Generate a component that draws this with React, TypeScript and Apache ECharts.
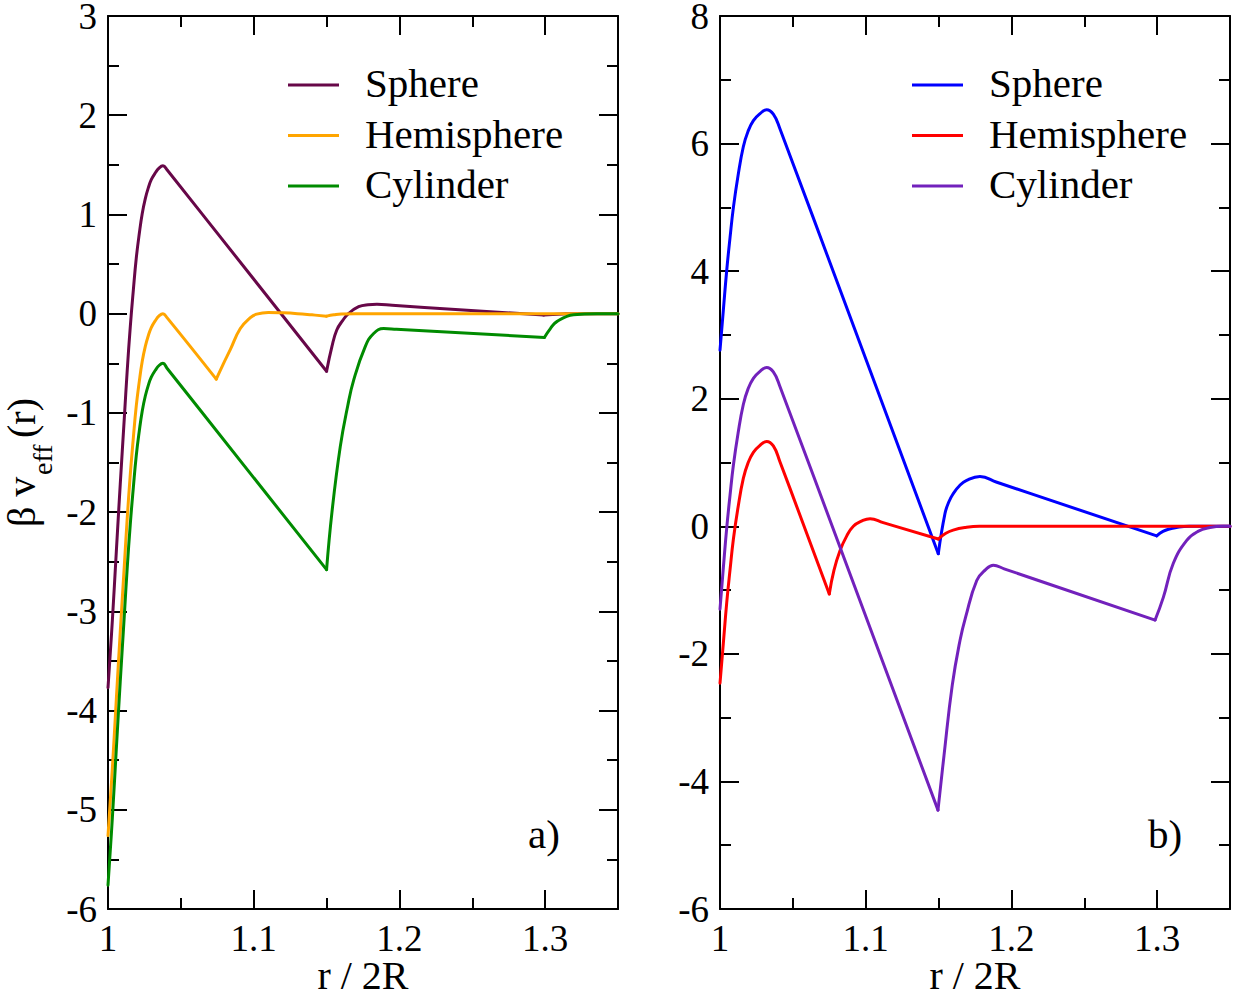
import React, { useEffect, useRef } from "react";
import * as echarts from "echarts";

// ---------- data (r / 2R, beta v_eff) ----------
const SERIES_NAMES = ["Sphere", "Hemisphere", "Cylinder"];
const COLORS_A = ["#670748", "#ffa500", "#008b00"];
const COLORS_B = ["#0000ff", "#ff0000", "#7221bc"];
const PANEL_TAGS = ["a)", "b)"];
const X_LABEL = "r / 2R";

const SPHERE_A: number[][] = [
  [1.0, -3.77], [1.003, -3.09], [1.0057, -2.4], [1.0084, -1.72], [1.0112, -1.05], [1.0132, -0.57],
  [1.0153, -0.13], [1.0174, 0.24], [1.0194, 0.56], [1.0215, 0.81], [1.0235, 1.01], [1.0256, 1.16],
  [1.0277, 1.27], [1.0297, 1.35], [1.0325, 1.42], [1.0352, 1.47], [1.0377, 1.49], [1.0405, 1.45],
  [1.15, -0.58], [1.1537, -0.33], [1.157, -0.165], [1.161, -0.07], [1.165, 0.0], [1.172, 0.07],
  [1.1784, 0.09], [1.1846, 0.094], [1.195, 0.084], [1.299, -0.014], [1.305, -0.008], [1.312, -0.003],
  [1.32, 0], [1.35, 0],
];
const HEMI_A: number[][] = [
  [1.0, -5.26], [1.003, -4.58], [1.0057, -3.89], [1.0084, -3.21], [1.0112, -2.54], [1.0132, -2.06],
  [1.0153, -1.62], [1.0174, -1.25], [1.0194, -0.93], [1.0215, -0.68], [1.0235, -0.48], [1.0256, -0.33],
  [1.0277, -0.22], [1.0297, -0.14], [1.0325, -0.07], [1.0352, -0.02], [1.0377, 0.0], [1.0405, -0.04],
  [1.0743, -0.66], [1.079, -0.51], [1.084, -0.36], [1.0908, -0.15], [1.0977, -0.04], [1.102, -0.005],
  [1.11, 0.012], [1.12, 0.008], [1.13, 0.0], [1.14, -0.012], [1.15, -0.025], [1.155, -0.012],
  [1.16, -0.003], [1.17, 0], [1.35, 0],
];
const CYL_A: number[][] = [
  [1.0, -5.76], [1.003, -5.08], [1.0057, -4.39], [1.0084, -3.71], [1.0112, -3.04], [1.0132, -2.56],
  [1.0153, -2.12], [1.0174, -1.75], [1.0194, -1.43], [1.0215, -1.18], [1.0235, -0.98], [1.0256, -0.83],
  [1.0277, -0.72], [1.0297, -0.64], [1.0325, -0.57], [1.0352, -0.52], [1.0377, -0.5], [1.0405, -0.55],
  [1.15, -2.58], [1.1537, -2.0], [1.1594, -1.34], [1.1645, -0.93], [1.1686, -0.67], [1.1766, -0.33],
  [1.1823, -0.2], [1.1892, -0.15], [1.198, -0.157], [1.2995, -0.24], [1.3036, -0.15], [1.308, -0.08],
  [1.3195, -0.01], [1.3356, 0], [1.35, 0],
];
const SPHERE_B: number[][] = [
  [1.0, 2.76], [1.0023, 3.39], [1.0046, 4.01], [1.0069, 4.53], [1.0092, 5.0], [1.0124, 5.5],
  [1.016, 5.95], [1.0192, 6.19], [1.0229, 6.36], [1.0275, 6.47], [1.032, 6.53], [1.0366, 6.46],
  [1.041, 6.24], [1.1498, -0.43], [1.1544, 0.2], [1.157, 0.38], [1.16, 0.51], [1.1645, 0.64],
  [1.1693, 0.72], [1.1784, 0.78], [1.19, 0.69], [1.2997, -0.15], [1.304, -0.08], [1.309, -0.04],
  [1.315, -0.01], [1.322, 0], [1.35, 0],
];
const HEMI_B: number[][] = [
  [1.0, -2.46], [1.0023, -1.83], [1.0046, -1.2], [1.0069, -0.68], [1.0092, -0.2], [1.0124, 0.3],
  [1.016, 0.75], [1.0192, 0.99], [1.0229, 1.16], [1.0275, 1.27], [1.032, 1.33], [1.0366, 1.26],
  [1.041, 1.02], [1.075, -1.06], [1.0782, -0.69], [1.0824, -0.38], [1.087, -0.15], [1.0915, 0.0],
  [1.097, 0.08], [1.103, 0.12], [1.112, 0.058], [1.1498, -0.2], [1.155, -0.11], [1.16, -0.06],
  [1.168, -0.02], [1.178, 0], [1.35, 0],
];
const CYL_B: number[][] = [
  [1.0, -1.3], [1.0023, -0.65], [1.0046, -0.03], [1.0069, 0.49], [1.0092, 0.96], [1.0124, 1.46],
  [1.016, 1.91], [1.0192, 2.15], [1.0229, 2.32], [1.0275, 2.43], [1.032, 2.49], [1.0366, 2.42],
  [1.041, 2.2], [1.1496, -4.45], [1.1537, -3.6], [1.1594, -2.49], [1.1647, -1.79], [1.1686, -1.42],
  [1.1762, -0.85], [1.1823, -0.68], [1.1876, -0.61], [1.195, -0.667], [1.2986, -1.47], [1.3043, -1.11],
  [1.3111, -0.58], [1.3203, -0.22], [1.328, -0.08], [1.3363, -0.02], [1.345, 0], [1.35, 0],
];

// r values where a curve has a sharp corner (cusp)
const KINKS_SPHERE_A = [1.15, 1.299];
const KINKS_HEMI_A = [1.0743, 1.15];
const KINKS_CYL_A = [1.15, 1.2995];
const KINKS_SPHERE_B = [1.1498, 1.2997];
const KINKS_HEMI_B = [1.075, 1.1498];
const KINKS_CYL_B = [1.1496, 1.2986];

const X_RANGE = [1, 1.35];
const Y_RANGE_A = [-6, 3];
const Y_RANGE_B = [-6, 8];
const Y_STEP_A = 1;
const Y_STEP_B = 2;

const FONT = "'Liberation Serif', 'Times New Roman', serif";

function splitAtKinks(data: number[][], kinks: number[]): number[][][] {
  const segs: number[][][] = [];
  let cur: number[][] = [];
  data.forEach((p) => {
    cur.push(p);
    if (kinks.some((k) => Math.abs(k - p[0]) < 1e-9)) {
      segs.push(cur);
      cur = [p];
    }
  });
  if (cur.length > 1) segs.push(cur);
  return segs;
}

export default function App() {
  const ref = useRef<HTMLDivElement>(null);

  useEffect(() => {
    if (!ref.current) return;
    const chart = echarts.init(ref.current, null, { renderer: "svg" });

    const grids = [
      { left: 108, top: 16, width: 510, height: 893 },
      { left: 720, top: 16, width: 510, height: 893 },
    ];

    const black = { color: "#000", width: 2 };

    const xAxesFor = (gi: number) => {
      const base: any = {
        type: "value",
        gridIndex: gi,
        min: X_RANGE[0],
        max: X_RANGE[1],
        splitLine: { show: false },
      };
      return [
        {
          ...base,
          position: "bottom",
          interval: 0.1,
          axisLine: { show: true, onZero: false, lineStyle: black },
          axisTick: { show: true, inside: true, length: 19, lineStyle: black },
          axisLabel: {
            show: true,
            margin: 11,
            color: "#000",
            fontFamily: FONT,
            fontSize: 37,
            formatter: (v: number) => (v > 1.349 ? "" : String(+v.toFixed(2))),
          },
          name: X_LABEL,
          nameLocation: "middle",
          nameGap: 46,
          nameMoveOverlap: false,
          nameTextStyle: { color: "#000", fontFamily: FONT, fontSize: 40 },
        },
        {
          ...base,
          position: "bottom",
          interval: 0.05,
          axisLine: { show: false, onZero: false },
          axisTick: { show: true, inside: true, length: 11, lineStyle: black },
          axisLabel: { show: false },
        },
        {
          ...base,
          position: "top",
          interval: 0.1,
          axisLine: { show: true, onZero: false, lineStyle: black },
          axisTick: { show: true, inside: true, length: 19, lineStyle: black },
          axisLabel: { show: false },
        },
        {
          ...base,
          position: "top",
          interval: 0.05,
          axisLine: { show: false, onZero: false },
          axisTick: { show: true, inside: true, length: 11, lineStyle: black },
          axisLabel: { show: false },
        },
      ];
    };

    const yAxesFor = (gi: number, range: number[], step: number) => {
      const base: any = {
        type: "value",
        gridIndex: gi,
        min: range[0],
        max: range[1],
        interval: step,
        splitLine: { show: false },
        minorSplitLine: { show: false },
        axisLine: { show: true, onZero: false, lineStyle: black },
        axisTick: { show: true, inside: true, length: 19, lineStyle: black },
        minorTick: { show: true, splitNumber: 2, length: 11, lineStyle: black },
      };
      return [
        {
          ...base,
          position: "left",
          axisLabel: {
            show: true,
            margin: 11,
            color: "#000",
            fontFamily: FONT,
            fontSize: 37,
          },
        },
        { ...base, position: "right", axisLabel: { show: false } },
      ];
    };

    const series: any[] = [];
    const addCurve = (name: string, data: number[][], kinks: number[], color: string, xi: number, yi: number) => {
      splitAtKinks(data, kinks).forEach((seg, k) => {
        series.push({
          type: "line",
          name: name + "#" + k,
          data: seg,
          xAxisIndex: xi,
          yAxisIndex: yi,
          showSymbol: false,
          symbol: "none",
          smooth: 0.45,
          clip: true,
          lineStyle: { color, width: 3, cap: "round", join: "round" },
          itemStyle: { color },
          z: 3,
        });
      });
    };

    addCurve("a:Sphere", SPHERE_A, KINKS_SPHERE_A, COLORS_A[0], 0, 0);
    addCurve("a:Hemisphere", HEMI_A, KINKS_HEMI_A, COLORS_A[1], 0, 0);
    addCurve("a:Cylinder", CYL_A, KINKS_CYL_A, COLORS_A[2], 0, 0);
    addCurve("b:Sphere", SPHERE_B, KINKS_SPHERE_B, COLORS_B[0], 4, 2);
    addCurve("b:Hemisphere", HEMI_B, KINKS_HEMI_B, COLORS_B[1], 4, 2);
    addCurve("b:Cylinder", CYL_B, KINKS_CYL_B, COLORS_B[2], 4, 2);

    const legendGraphic = (x0: number, colors: string[]) =>
      SERIES_NAMES.flatMap((n, i) => [
        {
          type: "line",
          shape: { x1: x0, y1: 85 + i * 50.5, x2: x0 + 51, y2: 85 + i * 50.5 },
          style: { stroke: colors[i], lineWidth: 3 },
        },
        {
          type: "text",
          x: x0 + 77,
          y: 83 + i * 50.5,
          style: {
            text: n,
            fill: "#000",
            font: `41px ${FONT}`,
            align: "left",
            verticalAlign: "middle",
          },
        },
      ]);

    const tag = (text: string, x: number) => ({
      type: "text",
      x,
      y: 834,
      style: { text, fill: "#000", font: `41px ${FONT}`, align: "center", verticalAlign: "middle" },
    });

    const rotText = (text: string, x: number, y: number, size: number) => ({
      type: "text",
      x,
      y,
      rotation: Math.PI / 2,
      style: { text, fill: "#000", font: `${size}px ${FONT}`, align: "left", verticalAlign: "middle" },
    });

    const option: any = {
      animation: false,
      backgroundColor: "#fff",
      textStyle: { fontFamily: FONT },
      grid: grids.map((g) => ({ ...g, containLabel: false, outerBoundsMode: "none" })),
      xAxis: [...xAxesFor(0), ...xAxesFor(1)],
      yAxis: [...yAxesFor(0, Y_RANGE_A, Y_STEP_A), ...yAxesFor(1, Y_RANGE_B, Y_STEP_B)],
      series,
      graphic: [
        ...legendGraphic(288, COLORS_A),
        ...legendGraphic(912, COLORS_B),
        tag(PANEL_TAGS[0], 544),
        tag(PANEL_TAGS[1], 1165),
        rotText("β v", 21, 527, 40),
        rotText("eff", 42, 475, 28),
        rotText("(r)", 21, 438, 40),
      ],
    };

    chart.setOption(option);
    return () => chart.dispose();
  }, []);

  return (
    <div
      ref={ref}
      style={{ position: "fixed", left: 0, top: 0, width: 1236, height: 994, background: "#fff" }}
    />
  );
}
